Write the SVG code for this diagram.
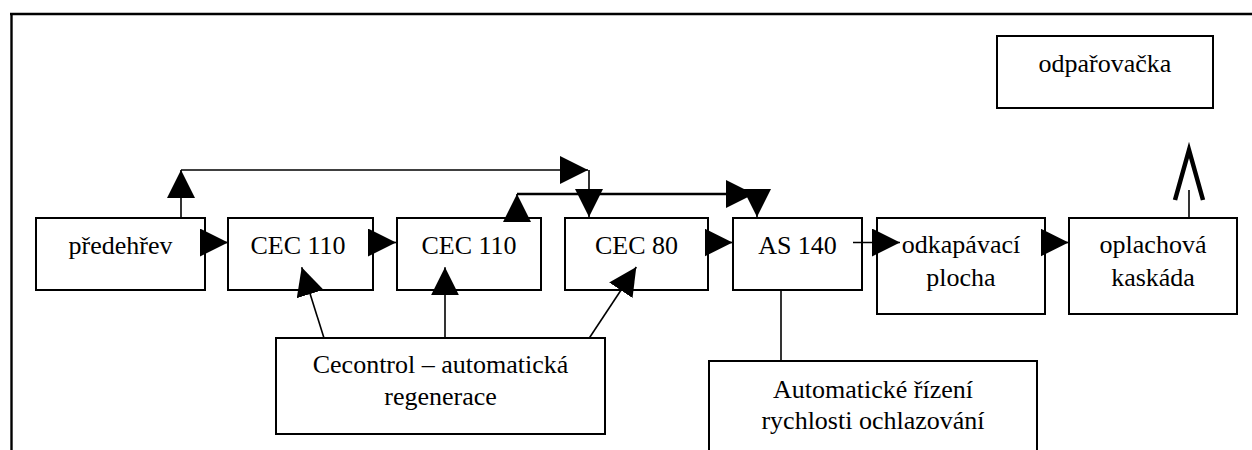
<svg xmlns="http://www.w3.org/2000/svg" width="1252" height="450" viewBox="0 0 1252 450">
<defs>
<style>
.box{fill:#fff;stroke:#000;stroke-width:2}
.t{font-family:'Liberation Serif','DejaVu Serif',serif;font-size:26px;fill:#000;text-anchor:middle}
.c{fill:none;stroke:#000;stroke-width:1.6}
.ca{fill:none;stroke:#000;stroke-width:1.6;marker-end:url(#ah)}
</style>
<marker id="ah" markerUnits="userSpaceOnUse" markerWidth="28" markerHeight="28" viewBox="0 0 27 27" refX="27" refY="13.5" orient="auto">
<path d="M0,0 L27,13.5 L0,27 Z" fill="#000"/>
</marker>
</defs>
<rect width="1252" height="450" fill="#fff"/>
<g id="frame">
<line x1="10" y1="14" x2="1252" y2="14" stroke="#000" stroke-width="2.6"/>
<line x1="11.5" y1="13" x2="11.5" y2="450" stroke="#000" stroke-width="2.4"/>
</g>
<g font-family="Liberation Serif, serif">
<g id="predehrev">
<rect class="box" x="36" y="218" width="169" height="72"/>
<text class="t" x="120.5" y="254">předehřev</text>
</g>
<g id="cec110a">
<rect class="box" x="228" y="218" width="145" height="72"/>
<text class="t" x="298" y="254">CEC 110</text>
</g>
<g id="cec110b">
<rect class="box" x="397" y="218" width="144" height="72"/>
<text class="t" x="469" y="254">CEC 110</text>
</g>
<g id="cec80">
<rect class="box" x="565" y="218" width="143" height="72"/>
<text class="t" x="636.5" y="254">CEC 80</text>
</g>
<g id="as140">
<rect class="box" x="733" y="218" width="129" height="72"/>
<text class="t" x="797.5" y="254">AS 140</text>
</g>
<g id="odkapavaci">
<rect class="box" x="877" y="218" width="168" height="96"/>
<text class="t" x="961" y="253">odkapávací</text>
<text class="t" x="961" y="286">plocha</text>
</g>
<g id="oplachova">
<rect class="box" x="1069" y="218" width="168" height="96"/>
<text class="t" x="1153" y="253">oplachová</text>
<text class="t" x="1153" y="286">kaskáda</text>
</g>
<g id="odparovacka">
<rect class="box" x="997" y="36" width="216" height="72"/>
<text class="t" x="1105" y="72">odpařovačka</text>
</g>
<g id="cecontrol">
<rect class="box" x="276" y="338" width="329" height="96"/>
<text class="t" x="440.5" y="373">Cecontrol – automatická</text>
<text class="t" x="440.5" y="405">regenerace</text>
</g>
<g id="automaticke">
<rect class="box" x="709" y="361" width="328" height="100"/>
<text class="t" x="873" y="398">Automatické řízení</text>
<text class="t" x="873" y="429">rychlosti ochlazování</text>
</g>
</g>
<g id="connectors">
<line class="ca" x1="181" y1="218" x2="181" y2="170"/>
<line class="ca" x1="181" y1="170" x2="588" y2="170"/>
<line class="ca" x1="589" y1="170" x2="589" y2="217"/>
<line class="ca" x1="517" y1="220" x2="517" y2="194"/>
<line class="ca" x1="517" y1="194" x2="754" y2="194" style="stroke-width:2.6"/>
<line class="ca" x1="757" y1="192" x2="757" y2="217"/>
<line class="ca" x1="202" y1="242.5" x2="228" y2="242.5"/>
<line class="ca" x1="369" y1="242.5" x2="396" y2="242.5"/>
<line class="ca" x1="706" y1="242.5" x2="732.5" y2="242.5"/>
<line class="ca" x1="853" y1="242.5" x2="900" y2="242.5"/>
<line class="ca" x1="1042" y1="242.5" x2="1068.5" y2="242.5"/>
<line class="c" x1="1189" y1="218" x2="1189" y2="190"/>
<polyline points="1175,200 1189,150 1203,200" fill="none" stroke="#000" stroke-width="4.5" stroke-miterlimit="10"/>
<line class="ca" x1="324" y1="338" x2="301.7" y2="267.3"/>
<line class="ca" x1="445" y1="338" x2="445" y2="267.3"/>
<line class="ca" x1="589.3" y1="338" x2="636.3" y2="267"/>
<line class="c" x1="781" y1="290" x2="781" y2="361"/>
</g>
</svg>
